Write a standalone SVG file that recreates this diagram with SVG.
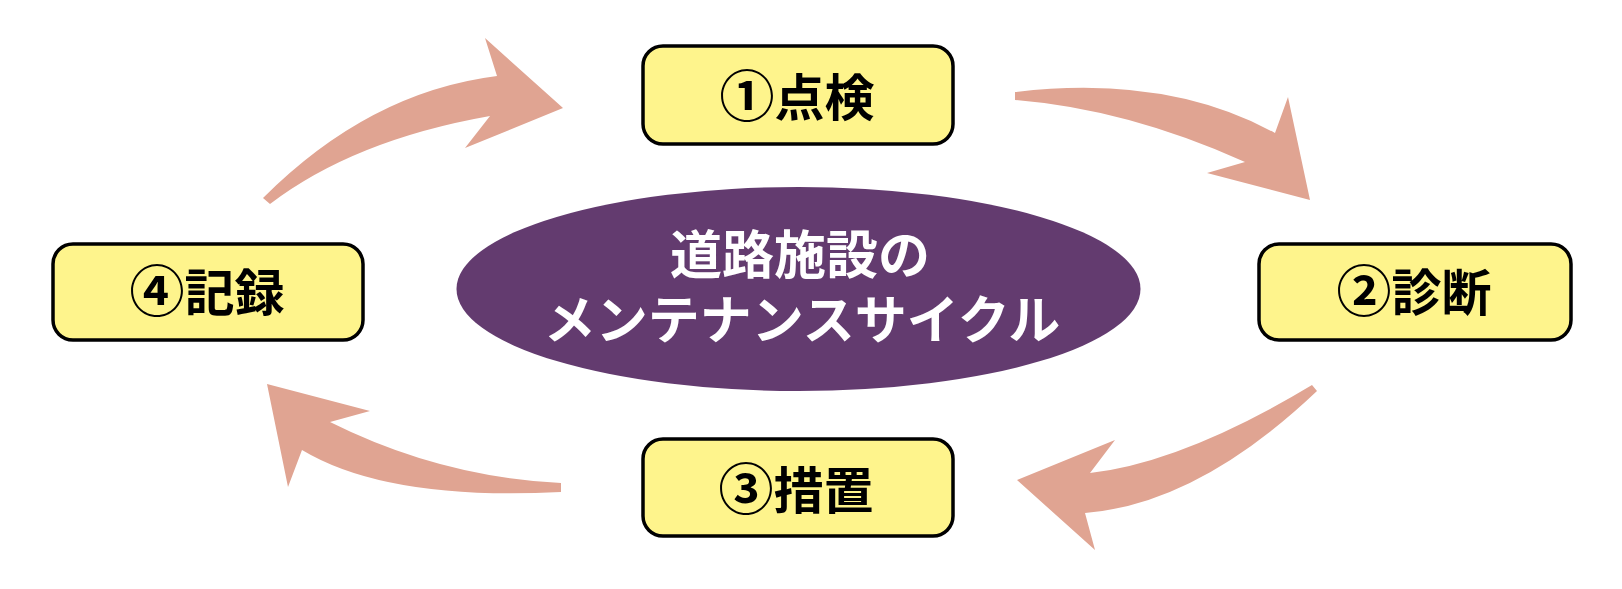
<svg xmlns="http://www.w3.org/2000/svg" width="1622" height="589" viewBox="0 0 1622 589">
<style>
.box{fill:#fef48c;stroke:#000;stroke-width:3.5}
.lbl{font-family:"Noto Sans CJK JP","Noto Sans CJK SC",sans-serif;font-weight:bold;font-size:50px;fill:#000;text-anchor:middle}
.num{font-size:55px}
.ctr{font-family:"Noto Sans CJK JP","Noto Sans CJK SC",sans-serif;font-weight:bold;font-size:52px;fill:#fff;text-anchor:middle}
.arr{fill:#e0a492}
</style>
<rect width="1622" height="589" fill="#fff"/>
<g id="connectors">
<path class="arr" d="M263,198 Q369,92 497,76 L485,38 L563,108 L465,148 L490,116 Q354,140 270,204 Z"/>
<path class="arr" d="M1015,92 Q1167,74 1275,133 L1288,97 L1310,200 L1207,173 L1245,162 Q1127,109 1015,100 Z"/>
<path class="arr" d="M1312,385 Q1184,462 1090,473 L1115,440 L1017,480 L1095,550 L1085,513 Q1198,504 1317,391 Z"/>
<path class="arr" d="M561,483 Q440,477 330,422 L370,411 L267,384 L288,487 L302,450 Q387,501 561,492 Z"/>
</g>
<g id="center">
<ellipse cx="798.5" cy="289" rx="342" ry="102" fill="#633b6f"/>
<text class="ctr"><tspan x="800" y="274">道路施設の</tspan><tspan x="802" y="339">メンテナンスサイクル</tspan></text>
</g>
<g id="node1">
<rect class="box" x="643" y="46" width="310" height="98" rx="20"/>
<text class="lbl" x="797" y="116"><tspan class="num">①</tspan>点検</text>
</g>
<g id="node2">
<rect class="box" x="1259" y="244" width="312" height="96" rx="20"/>
<text class="lbl" x="1414" y="311"><tspan class="num">②</tspan>診断</text>
</g>
<g id="node3">
<rect class="box" x="643" y="439" width="310" height="97" rx="20"/>
<text class="lbl" x="796" y="509"><tspan class="num">③</tspan>措置</text>
</g>
<g id="node4">
<rect class="box" x="53" y="244" width="310" height="96" rx="20"/>
<text class="lbl" x="207" y="311"><tspan class="num">④</tspan>記録</text>
</g>
</svg>
